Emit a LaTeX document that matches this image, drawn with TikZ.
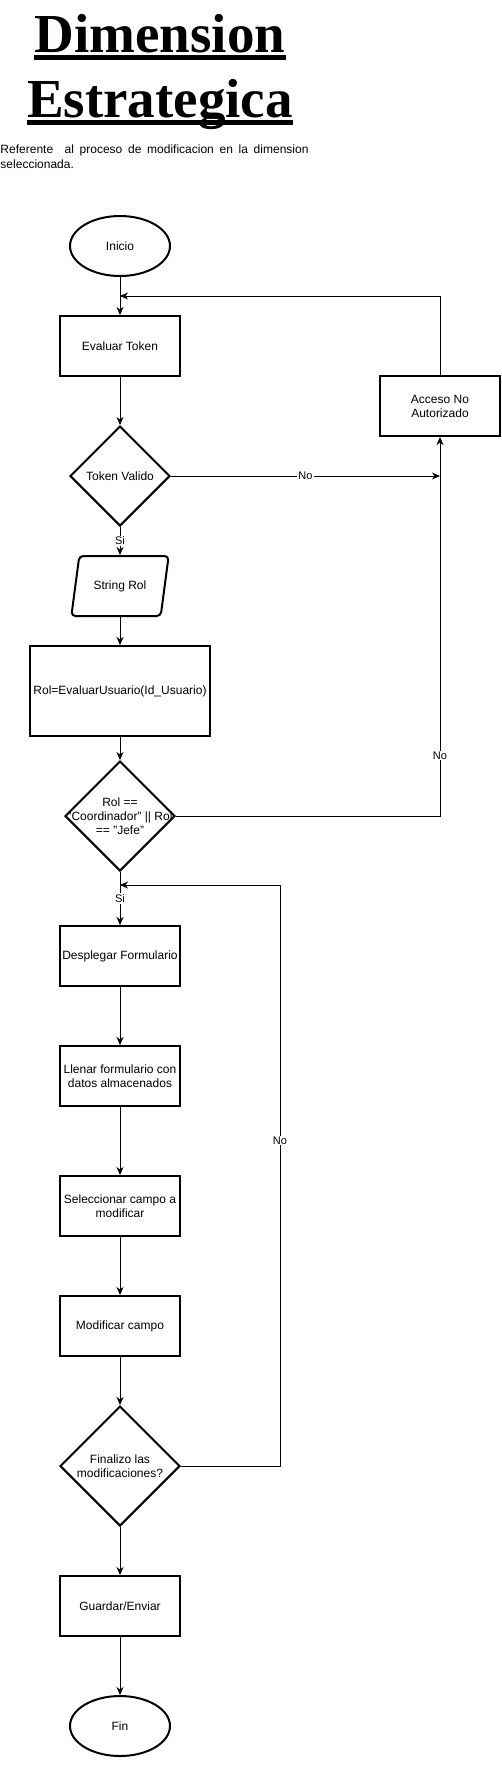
\documentclass[tikz,border=0pt]{standalone}
\usepackage{fontspec}
\setmainfont{Liberation Sans}
\newfontfamily\titulofont{Liberation Serif}
\usetikzlibrary{shapes.geometric, positioning, arrows.meta}

\begin{document}
\begin{tikzpicture}[x=1pt,y=-1pt,->,>={Stealth[length=8pt,width=7pt,inset=2.5pt]},
		line width=1pt,on grid,font=\fontsize{12}{14}\selectfont,
		inicio/.style={ellipse,draw,line width=2pt,minimum width=100pt,minimum height=60pt},
		proceso/.style={rectangle,draw,line width=2pt,minimum width=120pt,minimum height=60pt,
			align=center,inner sep=2pt},
		decision/.style={diamond,draw,line width=2pt,aspect=1,inner sep=0pt,align=center},
		datos/.style={trapezium,draw,line width=2pt,trapezium left angle=72,
			trapezium right angle=108,trapezium stretches=true,minimum width=98pt,
			minimum height=60pt,rounded corners=4pt},
		etiqueta/.style={fill=white,inner sep=1pt,font=\fontsize{11}{13}\selectfont},
		titulo/.style={font=\titulofont\bfseries\fontsize{55}{60}\selectfont,inner sep=0pt,anchor=base}]

  \useasboundingbox (0,0) rectangle (502,1765);

  % encabezado
  \node[titulo] (titulo a) at (160,52.3) {Dimension};
  \node[titulo] (titulo b) at (160,117.3) {Estrategica};
  \draw[-,line width=4.5pt] ([yshift=-5.3pt]titulo a.base west) -- ([yshift=-5.3pt]titulo a.base east);
  \draw[-,line width=4.5pt] ([yshift=-5.3pt]titulo b.base west) -- ([yshift=-5.3pt]titulo b.base east);
  \node[anchor=north west,text width=308pt,align=justify,inner sep=0pt,
		font={\fontsize{12}{15}\selectfont\hyphenpenalty=10000}] (referente) at (0,144.5)
	{Referente~ al proceso de modificacion en la dimension seleccionada.};

  % diagrama
  \node[inicio] (inicio) at (120,246) {Inicio};
  \node[proceso] (evaluar) [below=100pt of inicio] {Evaluar Token};
  \node[decision,minimum size=100pt] (token) [below=130pt of evaluar] {Token Valido};
  \node[proceso] (acceso) [below right=60pt and 320pt of evaluar] {Acceso No\\Autorizado};
  \node[datos] (string rol) [below=110pt of token] {String Rol};
  \node[proceso,minimum width=180pt,minimum height=90pt] (rol) [below=105pt of string rol]
	{Rol=EvaluarUsuario(Id\_Usuario)};
  \node[decision,minimum size=110pt] (rol check) [below=125pt of rol] {};
  \node[align=center,inner sep=0pt] (rol texto) at (rol check) {Rol ==\\"Coordinador" || Rol\\== "Jefe"};
  \node[proceso] (desplegar) [below=140pt of rol check] {Desplegar Formulario};
  \node[proceso] (llenar) [below=120pt of desplegar] {Llenar formulario con\\datos almacenados};
  \node[proceso] (seleccionar) [below=130pt of llenar] {Seleccionar campo a\\modificar};
  \node[proceso] (modificar) [below=120pt of seleccionar] {Modificar campo};
  \node[decision,minimum size=120pt] (finalizo) [below=140pt of modificar] {Finalizo las\\modificaciones?};
  \node[proceso] (guardar) [below=140pt of finalizo] {Guardar/Enviar};
  \node[inicio] (fin) [below=120pt of guardar] {Fin};

  \coordinate (entrada) at ([yshift=19pt]evaluar.north);
  \coordinate (retorno) at ([yshift=40pt]desplegar.north);

  \draw (inicio) -- (evaluar);
  \draw (evaluar) -- (token);
  \draw (token) -- node[etiqueta] {Si} (string rol);
  \draw (token.east) -- node[etiqueta] {No} (token.east -| acceso.south);
  \draw (acceso.north) |- (entrada);
  \draw (string rol) -- (rol);
  \draw (rol) -- (rol check);
  \draw (rol check.east) -| node[etiqueta,pos=0.58] {No} (acceso.south);
  \draw (rol check) -- node[etiqueta] {Si} (desplegar);
  \draw (desplegar) -- (llenar);
  \draw (llenar) -- (seleccionar);
  \draw (seleccionar) -- (modificar);
  \draw (modificar) -- (finalizo);
  \draw (finalizo.east) -| node[etiqueta,pos=0.78] {No} ([xshift=160pt]retorno) -- (retorno);
  \draw (finalizo) -- (guardar);
  \draw (guardar) -- (fin);

\end{tikzpicture}
\end{document}
